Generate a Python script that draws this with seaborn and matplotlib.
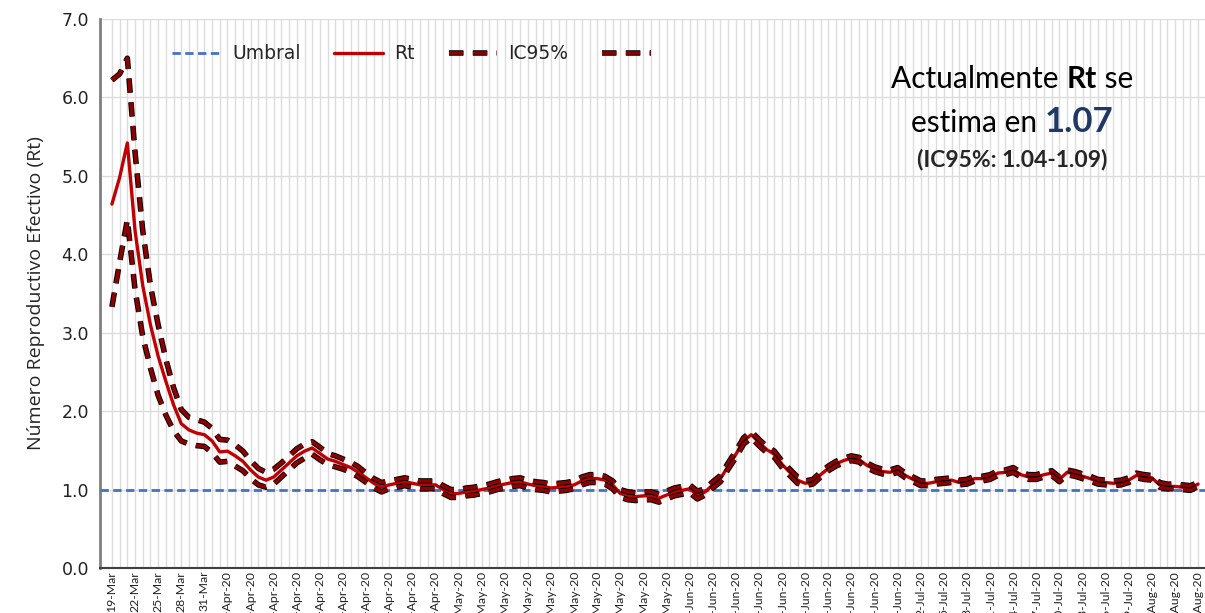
import numpy as np
import pandas as pd
import matplotlib
matplotlib.use("Agg")
import matplotlib.pyplot as plt
import matplotlib.patheffects as pe
from matplotlib.lines import Line2D
import seaborn as sns

# datos: Rt diario desde 19-Mar-20 hasta 7-Aug-20
fecha_inicio = "2020-03-19"
rt = [4.64, 4.98, 5.42, 4.30, 3.60, 3.10, 2.70, 2.38, 2.08, 1.84,
      1.76, 1.72, 1.70, 1.62, 1.48, 1.49, 1.43, 1.36, 1.25, 1.16,
      1.12, 1.16, 1.25, 1.34, 1.43, 1.49, 1.53, 1.46, 1.39, 1.36,
      1.32, 1.28, 1.22, 1.15, 1.08, 1.03, 1.06, 1.08, 1.10, 1.08,
      1.06, 1.06, 1.06, 1.00, 0.95, 0.95, 0.97, 0.98, 1.00, 1.02,
      1.05, 1.07, 1.09, 1.10, 1.07, 1.05, 1.04, 1.02, 1.03, 1.04,
      1.06, 1.11, 1.14, 1.14, 1.12, 1.06, 0.95, 0.92, 0.91, 0.92,
      0.92, 0.89, 0.93, 0.97, 0.99, 1.01, 0.93, 0.97, 1.06, 1.14,
      1.30, 1.45, 1.62, 1.70, 1.60, 1.51, 1.45, 1.32, 1.22, 1.12,
      1.08, 1.10, 1.19, 1.27, 1.33, 1.37, 1.40, 1.38, 1.31, 1.26,
      1.23, 1.22, 1.25, 1.18, 1.13, 1.08, 1.08, 1.10, 1.11, 1.12,
      1.09, 1.10, 1.14, 1.14, 1.16, 1.21, 1.22, 1.25, 1.19, 1.16,
      1.16, 1.19, 1.21, 1.13, 1.22, 1.20, 1.17, 1.14, 1.10, 1.09,
      1.08, 1.09, 1.12, 1.18, 1.16, 1.15, 1.06, 1.04, 1.04, 1.03,
      1.02, 1.07]
ic_sup = [6.22, 6.30, 6.50, 5.30, 4.30, 3.60, 3.10, 2.66, 2.30, 2.02,
          1.92, 1.89, 1.86, 1.78, 1.64, 1.63, 1.57, 1.49, 1.37, 1.27,
          1.22, 1.26, 1.34, 1.43, 1.52, 1.58, 1.61, 1.54, 1.46, 1.43,
          1.39, 1.35, 1.29, 1.21, 1.14, 1.09, 1.11, 1.13, 1.15, 1.13,
          1.11, 1.11, 1.11, 1.05, 1.00, 1.00, 1.02, 1.03, 1.05, 1.07,
          1.10, 1.12, 1.14, 1.15, 1.12, 1.10, 1.09, 1.07, 1.08, 1.09,
          1.11, 1.16, 1.19, 1.19, 1.17, 1.11, 1.00, 0.97, 0.96, 0.97,
          0.97, 0.94, 0.98, 1.02, 1.04, 1.06, 0.98, 1.01, 1.10, 1.18,
          1.34, 1.49, 1.66, 1.74, 1.64, 1.55, 1.49, 1.36, 1.26, 1.16,
          1.11, 1.13, 1.22, 1.30, 1.36, 1.40, 1.43, 1.41, 1.34, 1.29,
          1.26, 1.25, 1.28, 1.21, 1.16, 1.11, 1.11, 1.13, 1.14, 1.15,
          1.12, 1.13, 1.17, 1.17, 1.19, 1.24, 1.25, 1.28, 1.22, 1.19,
          1.19, 1.22, 1.24, 1.16, 1.25, 1.23, 1.20, 1.17, 1.13, 1.12,
          1.11, 1.12, 1.15, 1.21, 1.19, 1.18, 1.09, 1.07, 1.07, 1.06,
          1.05, 1.09]
ic_inf = [3.33, 3.90, 4.44, 3.55, 2.95, 2.55, 2.20, 1.95, 1.75, 1.62,
          1.58, 1.56, 1.55, 1.47, 1.35, 1.36, 1.30, 1.24, 1.14, 1.06,
          1.03, 1.07, 1.16, 1.25, 1.34, 1.40, 1.45, 1.38, 1.32, 1.29,
          1.26, 1.22, 1.16, 1.09, 1.02, 0.97, 1.01, 1.03, 1.05, 1.03,
          1.01, 1.01, 1.01, 0.95, 0.90, 0.90, 0.92, 0.93, 0.95, 0.97,
          1.00, 1.02, 1.04, 1.05, 1.02, 1.00, 0.99, 0.97, 0.98, 0.99,
          1.01, 1.06, 1.09, 1.09, 1.07, 1.01, 0.90, 0.87, 0.86, 0.87,
          0.87, 0.84, 0.88, 0.92, 0.94, 0.96, 0.88, 0.93, 1.02, 1.10,
          1.26, 1.41, 1.58, 1.66, 1.56, 1.47, 1.41, 1.28, 1.18, 1.08,
          1.05, 1.07, 1.16, 1.24, 1.30, 1.34, 1.37, 1.35, 1.28, 1.23,
          1.20, 1.19, 1.22, 1.15, 1.10, 1.05, 1.05, 1.07, 1.08, 1.09,
          1.06, 1.07, 1.11, 1.11, 1.13, 1.18, 1.19, 1.22, 1.16, 1.13,
          1.13, 1.16, 1.18, 1.10, 1.19, 1.17, 1.14, 1.11, 1.07, 1.06,
          1.05, 1.06, 1.09, 1.15, 1.13, 1.12, 1.03, 1.01, 1.01, 1.00,
          0.99, 1.04]
umbral = 1.0

etiquetas_x = ["19-Mar", "22-Mar", "25-Mar", "28-Mar", "31-Mar",
               "3-Apr-20", "6-Apr-20", "9-Apr-20", "12-Apr-20", "15-Apr-20",
               "18-Apr-20", "21-Apr-20", "24-Apr-20", "27-Apr-20", "30-Apr-20",
               "3-May-20", "6-May-20", "9-May-20", "12-May-20", "15-May-20",
               "18-May-20", "21-May-20", "24-May-20", "27-May-20", "30-May-20",
               "2-Jun-20", "5-Jun-20", "8-Jun-20", "11-Jun-20", "14-Jun-20",
               "17-Jun-20", "20-Jun-20", "23-Jun-20", "26-Jun-20", "29-Jun-20",
               "2-Jul-20", "5-Jul-20", "8-Jul-20", "11-Jul-20", "14-Jul-20",
               "17-Jul-20", "20-Jul-20", "23-Jul-20", "26-Jul-20", "29-Jul-20",
               "1-Aug-20", "4-Aug-20", "7-Aug-20"]

rt_actual = "1.07"
ic_actual = "(IC95%: 1.04-1.09)"

df = pd.DataFrame({
    "fecha": pd.date_range(fecha_inicio, periods=len(rt), freq="D"),
    "rt": rt, "sup": ic_sup, "inf": ic_inf,
})
df["dia"] = (df["fecha"] - df["fecha"].iloc[0]).dt.days

sns.set_style("white")
plt.rcParams["font.family"] = ["DejaVu Sans"]

W, H = 1205, 613
fig = plt.figure(figsize=(W / 100, H / 100), dpi=100)
ax = fig.add_axes([100 / W, 45 / H, 1105 / W, 549 / H])

rojo = "#C00000"
rojo_osc = "#8B0000"
azul = "#4472C4"
guiones = (0, (4, 2.6))

ax.axhline(umbral, color=azul, lw=2, ls=(0, (3, 1.6)), zorder=3)
sns.lineplot(data=df, x="dia", y="rt", ax=ax, color=rojo, lw=2.4, zorder=4)
borde = [pe.Stroke(linewidth=4.0, foreground="black"), pe.Normal()]
for col in ["sup", "inf"]:
    sns.lineplot(data=df, x="dia", y=col, ax=ax, color=rojo_osc, lw=2.6,
                 linestyle=guiones, path_effects=borde, zorder=5)

ax.set_xlim(-1.55, 141.9)
ax.set_ylim(0, 7)
ax.set_yticks(np.arange(0, 8, 1.0))
ax.set_yticklabels([f"{v:.1f}" for v in np.arange(0, 8, 1.0)], fontsize=12.5,
                   color="#222222")
ax.set_xticks(df["dia"].iloc[::3])
ax.set_xticklabels(etiquetas_x, rotation=90, fontsize=8.8, color="#222222",
                   family=["Lato"], va="top")
ax.set_xticks(df["dia"], minor=True)
ax.tick_params(axis="both", which="both", length=0)
ax.tick_params(axis="x", pad=2)
ax.tick_params(axis="y", pad=8)
ax.grid(True, axis="x", which="both", color="#dcdcdc", lw=1)
ax.grid(True, axis="y", which="major", color="#dcdcdc", lw=1)
ax.set_axisbelow(True)
ax.set_xlabel("")
ax.set_ylabel("Número Reproductivo Efectivo (Rt)", fontsize=14,
              family=["Open Sans"], labelpad=12)

for s in ["top", "right"]:
    ax.spines[s].set_visible(False)
ax.spines["left"].set_color("#7f7f7f")
ax.spines["left"].set_linewidth(2)
ax.spines["bottom"].set_color("#404040")
ax.spines["bottom"].set_linewidth(1.5)

handles = [
    Line2D([], [], color=azul, lw=2, ls=(0, (3, 1.6))),
    Line2D([], [], color=rojo, lw=2.4),
    Line2D([], [], color=rojo_osc, lw=2.6, ls=guiones, path_effects=borde),
    Line2D([], [], color=rojo_osc, lw=2.6, ls=guiones, path_effects=borde),
]
ax.legend(handles, ["Umbral", "Rt", "IC95%", ""], loc="upper left",
          bbox_to_anchor=(0.05, 0.985), ncol=4, frameon=False, fontsize=13.5,
          handlelength=2.6, columnspacing=1.8, handletextpad=0.6)

# texto de la esquina superior derecha
renderer = fig.canvas.get_renderer()


def linea(y_px, partes, cx=1012):
    textos = [fig.text(0, 1 - y_px / H, s, va="baseline", **kw) for s, kw in partes]
    anchos = [t.get_window_extent(renderer).width for t in textos]
    x = cx - sum(anchos) / 2
    for t, w in zip(textos, anchos):
        t.set_x(x / W)
        x += w


base = dict(family=["Lato"], fontsize=21.5, color="black")
linea(88, [("Actualmente ", base),
           ("Rt", dict(base, fontweight="bold")),
           (" se", base)])
linea(132, [("estima en ", base),
            (rt_actual, dict(family=["Lato"], fontsize=25, fontweight="bold",
                             color="#1F3864"))])
linea(166, [(ic_actual, dict(family=["Lato"], fontsize=16.5, fontweight="bold"))])

fig.savefig("out.png", dpi=100)
